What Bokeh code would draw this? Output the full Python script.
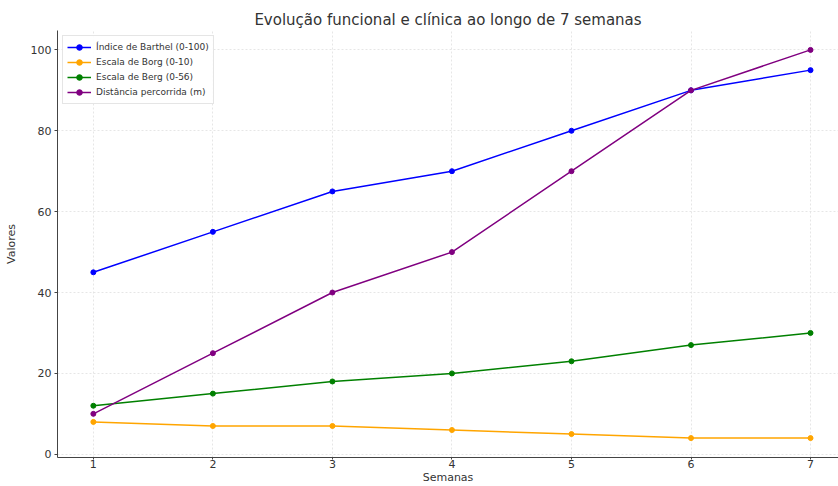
from bokeh.plotting import figure
from bokeh.models import Range1d, FixedTicker, Legend
from bokeh.embed import file_html
from bokeh.resources import INLINE

semanas = [1, 2, 3, 4, 5, 6, 7]
barthel = [45, 55, 65, 70, 80, 90, 95]
borg = [8, 7, 7, 6, 5, 4, 4]
berg = [12, 15, 18, 20, 23, 27, 30]
distancia = [10, 25, 40, 50, 70, 90, 100]

series = [
    ("Índice de Barthel (0-100)", barthel, "blue"),
    ("Escala de Borg (0-10)", borg, "orange"),
    ("Escala de Berg (0-56)", berg, "green"),
    ("Distância percorrida (m)", distancia, "purple"),
]

FONT = "DejaVu Sans"

p = figure(width=838, height=486, output_backend="svg", toolbar_location=None,
           x_range=Range1d(0.7, 7.234), y_range=Range1d(-0.8, 104.8),
           min_border_left=57, min_border_right=0, min_border_top=30,
           min_border_bottom=0,
           title="Evolução funcional e clínica ao longo de 7 semanas")
p.title.align = "center"
p.title.offset = 12
p.title.text_font = FONT
p.title.text_font_size = "15px"
p.title.text_font_style = "normal"
p.title.text_color = "#333333"
p.title.standoff = 4
p.outline_line_color = None

items = []
for name, vals, color in series:
    r1 = p.line(semanas, vals, line_color=color, line_width=1.5)
    r2 = p.scatter(semanas, vals, size=5, fill_color=color, line_color=color)
    items.append((name, [r1, r2]))

legend = Legend(items=items, location="top_left")
legend.label_text_font = FONT
legend.label_text_font_size = "9px"
legend.label_text_color = "#333333"
legend.glyph_height = 14
legend.glyph_width = 24
legend.label_height = 14
legend.spacing = 1
legend.padding = 4
legend.margin = 5
legend.border_line_color = "#cccccc"
legend.background_fill_alpha = 0.9
p.add_layout(legend)

p.xaxis.ticker = FixedTicker(ticks=semanas)
p.yaxis.ticker = FixedTicker(ticks=[0, 20, 40, 60, 80, 100])
for ax in (p.xaxis, p.yaxis):
    ax.major_label_text_font = FONT
    ax.major_label_text_font_size = "11px"
    ax.major_label_text_color = "#333333"
    ax.axis_label_text_font = FONT
    ax.axis_label_text_font_size = "11px"
    ax.axis_label_text_font_style = "normal"
    ax.axis_label_text_color = "#333333"
    ax.axis_line_color = "#444444"
    ax.major_tick_line_color = "#444444"
    ax.major_tick_out = 2
    ax.major_tick_in = 0
    ax.minor_tick_line_color = None
    ax.major_label_standoff = 0
    ax.axis_label_standoff = 0
p.yaxis.major_tick_out = 3
p.yaxis.major_label_standoff = 3
p.yaxis.axis_label_standoff = 10
p.xaxis.axis_label = "Semanas"
p.yaxis.axis_label = "Valores"

p.grid.grid_line_color = "#e0e0e0"
p.grid.grid_line_dash = "2 2"
p.grid.grid_line_width = 0.8

open("out.html", "w").write(file_html(p, INLINE))
